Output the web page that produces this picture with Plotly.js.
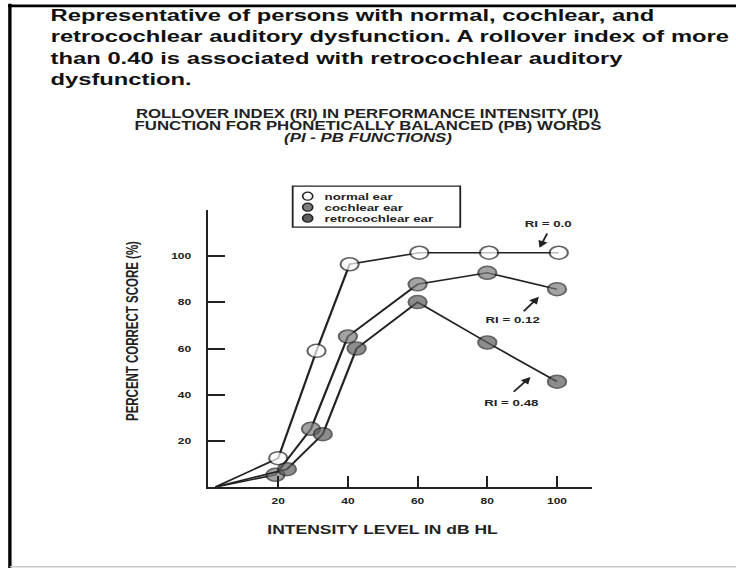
<!DOCTYPE html>
<html>
<head>
<meta charset="utf-8">
<script src="https://cdn.plot.ly/plotly-3.0.1.min.js"></script>
<style>
  html, body { margin: 0; padding: 0; background: #ffffff; }
  #wrap { width: 736px; height: 568px; overflow: hidden; position: relative; background: #ffffff; }
  #chart { width: 526px; height: 568px; transform: scaleX(1.3992); transform-origin: 0 0; }
</style>
</head>
<body>
<div id="wrap"><div id="chart"></div></div>
<script>
// ---- data ----
const captionLines = [
  "Representative of persons with normal, cochlear, and",
  "retrocochlear auditory dysfunction. A rollover index of more",
  "than 0.40 is associated with retrocochlear auditory",
  "dysfunction."
];
const chartTitleLines = [
  "ROLLOVER INDEX (RI) IN PERFORMANCE INTENSITY (PI)",
  "FUNCTION FOR PHONETICALLY BALANCED (PB) WORDS",
  "<i>(PI - PB FUNCTIONS)</i>"
];
const seriesNames = ["normal ear", "cochlear ear", "retrocochlear ear"];
const normalX    = [2, 20, 31, 40.5, 60.5, 80.5, 100.5];
const normalY    = [0, 12.5, 59, 96.5, 101.5, 101.5, 101.5];
const cochlearX  = [2, 19.2, 29.4, 40, 60, 80, 100];
const cochlearY  = [0, 5.3, 25.2, 65.2, 87.8, 92.8, 85.7];
const retroX     = [2, 22.5, 32.8, 42.5, 60, 80, 100];
const retroY     = [0, 7.7, 22.9, 60, 80.1, 62.6, 45.6];
const xTickVals  = [20, 40, 60, 80, 100];
const yTickVals  = [20, 40, 60, 80, 100, 120];
const yTickText  = ["20", "40", "60", "80", "100", ""];
const riLabels   = ["RI = 0.0", "RI = 0.12", "RI = 0.48"];
const xTitle = "INTENSITY LEVEL IN dB HL";
const yTitle = "PERCENT CORRECT SCORE (%)";

// ---- styling ----
const FONT = "Liberation Sans, Arial, Helvetica, sans-serif";
const INK = "#222222";
const fills = ["#ffffff", "#7d7d7d", "#5e5e5e"];
const MS = 13;

function sizes(n) { return Array.from({length: n}, (_, i) => i === 0 ? 0 : MS); }
function lws(n) { return Array.from({length: n}, (_, i) => i === 0 ? 0 : 1.5); }

function trace(x, y, k) {
  return {
    type: "scatter", mode: "lines+markers", name: seriesNames[k],
    x: x, y: y, cliponaxis: false, showlegend: false,
    line: {color: INK, width: 1.6},
    marker: {symbol: "circle", size: sizes(x.length), color: fills[k],
             line: {color: INK, width: lws(x.length)}}
  };
}
const data = [trace(normalX, normalY, 0), trace(cochlearX, cochlearY, 1), trace(retroX, retroY, 2)];

const boldFont = (size, color) => ({family: FONT, size: size, color: color || INK, weight: "bold"});

const annotations = [];
// caption lines (top of the slide)
const capY = [1.7027, 1.6252, 1.5476, 1.4701];
captionLines.forEach((t, i) => annotations.push({
  text: t, xref: "paper", yref: "paper", x: -0.4213, y: capY[i],
  xanchor: "left", yanchor: "middle", showarrow: false, font: boldFont(17, "#111111")
}));
// chart title lines
const ctY = [1.3463, 1.3048, 1.259];
chartTitleLines.forEach((t, i) => annotations.push({
  text: t, xref: "paper", yref: "paper", x: 0.4158, y: ctY[i],
  xanchor: "center", yanchor: "middle", showarrow: false, font: boldFont(12)
}));
// axis titles
annotations.push({text: xTitle, xref: "x", yref: "paper", x: 50, y: 0, yshift: -43,
  xanchor: "center", yanchor: "middle", showarrow: false, font: boldFont(12.5)});
annotations.push({text: yTitle, xref: "paper", yref: "paper", x: -0.1988, y: 0.561,
  textangle: -90, xanchor: "center", yanchor: "middle", showarrow: false, font: boldFont(11.5)});
// legend texts
const legY = [1.0498, 1.0101, 0.9704];
seriesNames.forEach((t, i) => annotations.push({
  text: t, xref: "paper", yref: "paper", x: 0.2954, y: legY[i],
  xanchor: "left", yanchor: "middle", showarrow: false, font: boldFont(9.5)
}));
// RI labels and arrows
const riText = [[97.4, 114.2], [87.2, 72.6], [87.1, 36.5]];
const riArrow = [[95.0, 103.6, 97.4, 110.5], [94.8, 82.4, 90.0, 75.5], [92.4, 47.7, 87.1, 40.6]];
riLabels.forEach((t, i) => {
  annotations.push({text: t, xref: "x", yref: "y", x: riText[i][0], y: riText[i][1],
    xanchor: "center", yanchor: "middle", showarrow: false, font: boldFont(9.5)});
  annotations.push({text: "", xref: "x", yref: "y", x: riArrow[i][0], y: riArrow[i][1],
    axref: "x", ayref: "y", ax: riArrow[i][2], ay: riArrow[i][3],
    showarrow: true, arrowhead: 2, arrowsize: 1, arrowwidth: 1.4, arrowcolor: INK, standoff: 0});
});

const shapes = [
  // legend box
  {type: "rect", xref: "paper", yref: "paper", x0: 0.2196, x1: 0.6567, y0: 0.938, y1: 1.086,
   line: {color: INK, width: 1.3}, fillcolor: "rgba(0,0,0,0)"},
  // page frame
  {type: "line", xref: "paper", yref: "paper", x0: -0.518, x1: -0.518, y0: -0.30, y1: 1.745,
   line: {color: "#000000", width: 2.4}},
  {type: "line", xref: "paper", yref: "paper", x0: -0.523, x1: 1.40, y0: 1.737, y1: 1.737,
   line: {color: "#000000", width: 2.8}},
  {type: "line", xref: "paper", yref: "paper", x0: -0.518, x1: 1.40, y0: -0.288, y1: -0.288,
   line: {color: "#cccccc", width: 1.5}}
];
seriesNames.forEach((t, i) => shapes.push({
  type: "circle", xref: "paper", yref: "paper",
  xsizemode: "pixel", ysizemode: "pixel", xanchor: 0.2588, yanchor: legY[i],
  x0: -3.6, x1: 3.6, y0: -4, y1: 4,
  fillcolor: fills[i], line: {color: INK, width: 1.2}
}));

const layout = {
  width: 526, height: 568,
  margin: {l: 149.4, r: 103.4, t: 210, b: 81, pad: 0},
  paper_bgcolor: "#ffffff", plot_bgcolor: "#ffffff",
  showlegend: false,
  xaxis: {
    range: [0, 110], showline: true, linecolor: INK, linewidth: 2,
    ticks: "inside", ticklen: 11, tickwidth: 1.5, tickcolor: INK,
    tickvals: xTickVals, showgrid: false, zeroline: false,
    tickfont: boldFont(8.6), ticklabelstandoff: 5, fixedrange: true
  },
  yaxis: {
    range: [0, 120], showline: true, linecolor: INK, linewidth: 1.6,
    ticks: "inside", ticklen: 12, tickwidth: 2, tickcolor: INK,
    tickvals: yTickVals, ticktext: yTickText, showgrid: false, zeroline: false,
    tickfont: boldFont(8.6), ticklabelstandoff: 9, fixedrange: true
  },
  annotations: annotations,
  shapes: shapes
};

Plotly.newPlot("chart", data, layout, {displayModeBar: false, staticPlot: true});
</script>
</body>
</html>
